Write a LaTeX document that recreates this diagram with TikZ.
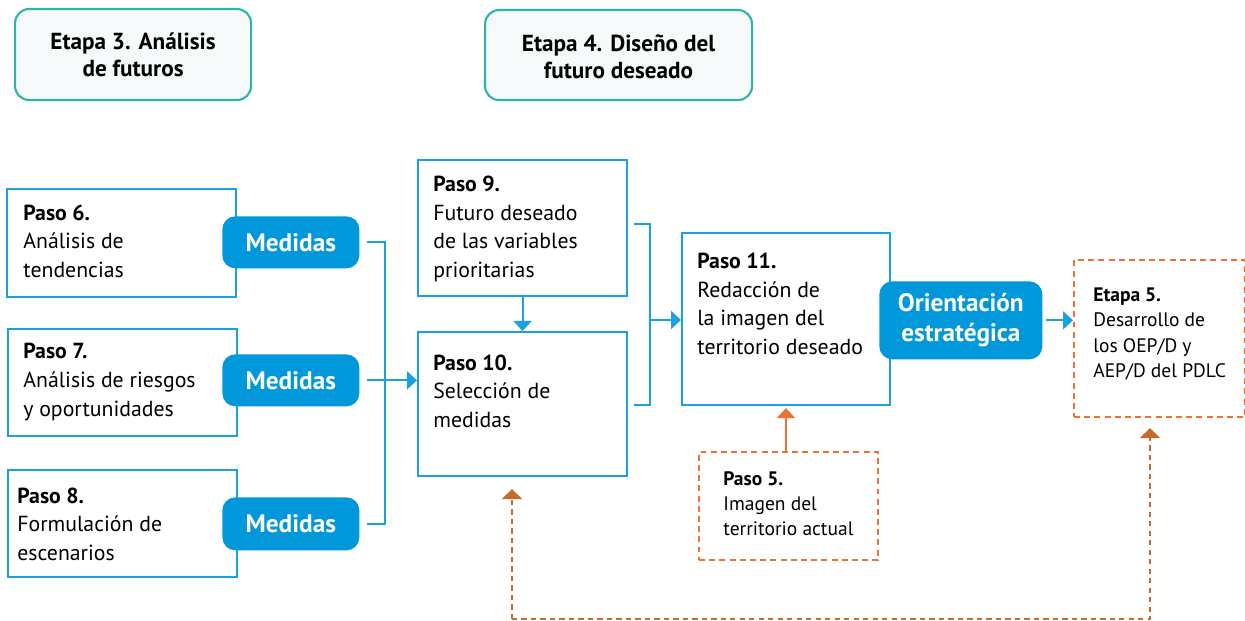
\documentclass[tikz,border=0pt]{standalone}
\usepackage{fontspec}
\setmainfont{PT Sans}
\usetikzlibrary{arrows.meta}
\definecolor{blu}{HTML}{1BA1E2}
\definecolor{bfill}{HTML}{0098DA}
\definecolor{teal}{HTML}{2DB5A8}
\definecolor{tfill}{HTML}{F6FAFB}
\definecolor{orng}{HTML}{EA7436}
\definecolor{brwn}{HTML}{C46A2C}
\tikzset{
  box/.style={draw=blu, line width=1.2pt, anchor=north west, inner sep=0pt},
  etapa/.style={draw=teal, fill=tfill, line width=1.2pt, rounded corners=0.28cm, anchor=north west, inner sep=0pt},
  pill/.style={fill=bfill, rounded corners=0.26cm, anchor=north west, inner sep=0pt},
  dbox/.style={draw=orng, line width=1.2pt, dash pattern=on 3.4pt off 2.4pt, anchor=north west, inner sep=0pt},
  txt/.style={inner sep=0pt, align=left, anchor=west, font=\fontsize{12.4}{16.3}\selectfont, text=black},
  stxt/.style={inner sep=0pt, align=left, anchor=west, font=\fontsize{11.1}{14.3}\selectfont, text=black},
  ttxt/.style={inner sep=0pt, align=center, font=\bfseries\fontsize{13.2}{15.6}\selectfont, text=black},
  wtxt/.style={inner sep=0pt, align=center, font=\bfseries\fontsize{14.4}{17}\selectfont, text=white},
  conn/.style={draw=blu, line width=1.2pt},
  arr/.style={conn, -{Triangle[width=0.36cm,length=0.2cm]}},
  oarr/.style={draw=orng, line width=1.2pt, -{Triangle[width=0.36cm,length=0.2cm]}},
  barr/.style={draw=brwn, line width=1.2pt, dash pattern=on 3pt off 2.4pt, -{Triangle[width=0.4cm,length=0.2cm]}}
}
\begin{document}
\begin{tikzpicture}[x=0.02cm,y=-0.02cm]
\useasboundingbox (0,0) rectangle (1245,621);
% Etapa headers
\node[etapa, minimum width=236*0.02cm, minimum height=91*0.02cm] (e3) at (14,8) {};
\node[ttxt] (e3t) at (e3.center) {Etapa 3. Análisis\\de futuros};
\node[etapa, minimum width=267*0.02cm, minimum height=90*0.02cm] (e4) at (484,9) {};
\node[ttxt] (e4t) at ([yshift=-0.04cm]e4.center) {Etapa 4. Diseño del\\futuro deseado};
% Paso 6-8
\node[box, minimum width=229*0.02cm, minimum height=108*0.02cm] (p6) at (6,188) {};
\node[txt] (p6t) at (23,241) {\textbf{Paso 6.}\\Análisis de\\tendencias};
\node[box, minimum width=229*0.02cm, minimum height=107*0.02cm] (p7) at (7,328) {};
\node[txt] (p7t) at (23,382) {\textbf{Paso 7.}\\Análisis de riesgos\\y oportunidades};
\node[box, minimum width=229*0.02cm, minimum height=107*0.02cm] (p8) at (7,469) {};
\node[txt] (p8t) at (17,524) {\textbf{Paso 8.}\\Formulación de\\escenarios};
% Medidas pills
\node[pill, minimum width=137*0.02cm, minimum height=52*0.02cm] (m6) at (222,216) {};
\node[wtxt] (m6t) at (m6.center) {Medidas};
\node[pill, minimum width=137*0.02cm, minimum height=52*0.02cm] (m7) at (222,354) {};
\node[wtxt] (m7t) at (m7.center) {Medidas};
\node[pill, minimum width=137*0.02cm, minimum height=53*0.02cm] (m8) at (222,497) {};
\node[wtxt] (m8t) at (m8.center) {Medidas};
% Paso 9, 10
\node[box, minimum width=209*0.02cm, minimum height=136*0.02cm] (p9) at (417,159) {};
\node[txt] (p9t) at (433,229) {\textbf{Paso 9.}\\Futuro deseado\\de las variables\\prioritarias};
\node[box, minimum width=209*0.02cm, minimum height=144*0.02cm] (p10) at (417,331) {};
\node[txt] (p10t) at (433,391) {\textbf{Paso 10.}\\Selección de\\medidas};
% Paso 11
\node[box, minimum width=208*0.02cm, minimum height=172*0.02cm] (p11) at (681,232) {};
\node[txt] (p11t) at (697,304) {\textbf{Paso 11.}\\Redacción de\\la imagen del\\territorio deseado};
% Orientacion
\node[pill, minimum width=163*0.02cm, minimum height=78*0.02cm] (or) at (879,281) {};
\node[wtxt] (ort) at (or.center) {Orientación\\estratégica};
% Etapa 5
\node[dbox, minimum width=171*0.02cm, minimum height=157*0.02cm] (e5) at (1073,259) {};
\node[stxt] (e5t) at (1093,334) {\textbf{Etapa 5.}\\Desarrollo de\\los OEP/D y\\AEP/D del PDLC};
% Paso 5
\node[dbox, minimum width=179*0.02cm, minimum height=108*0.02cm] (p5) at (698,451) {};
\node[stxt] (p5t) at (723,504) {\textbf{Paso 5.}\\Imagen del\\territorio actual};
% connectors: bracket 1
\coordinate (j1) at (385,380);
\draw[conn] ([xshift=0.14cm]m6.east) -| (j1);
\draw[conn] ([xshift=0.14cm]m8.east) -| (j1);
\draw[arr] ([xshift=0.14cm]m7.east) -- (m7.east -| p10.west);
% 9 -> 10
\draw[arr] (p9.south) -- (p10.north);
% bracket 2
\coordinate (j2) at (650,320);
\draw[conn] ([xshift=0.12cm]p9.east |- 0,224) -| (j2);
\draw[conn] ([xshift=0.12cm]p10.east |- 0,405) -| (j2);
\draw[arr] (j2) -- (j2 -| p11.west);
% orientacion -> etapa 5
\draw[arr] ([xshift=0.06cm]or.east) -- (or.east -| e5.west);
% paso 5 -> paso 11
\draw[oarr] (p5.north -| 786,0) -- ([yshift=-0.04cm]p11.south -| 786,0);
% feedback dashed line
\coordinate (fb1) at (512,619);
\coordinate (fb2) at (1150,619);
\draw[barr] (fb1) -- (fb2) -- ([yshift=-0.2cm]e5.south -| fb2);
\draw[barr] (fb1) -- ([yshift=-0.24cm]p10.south -| fb1);
\end{tikzpicture}
\end{document}
